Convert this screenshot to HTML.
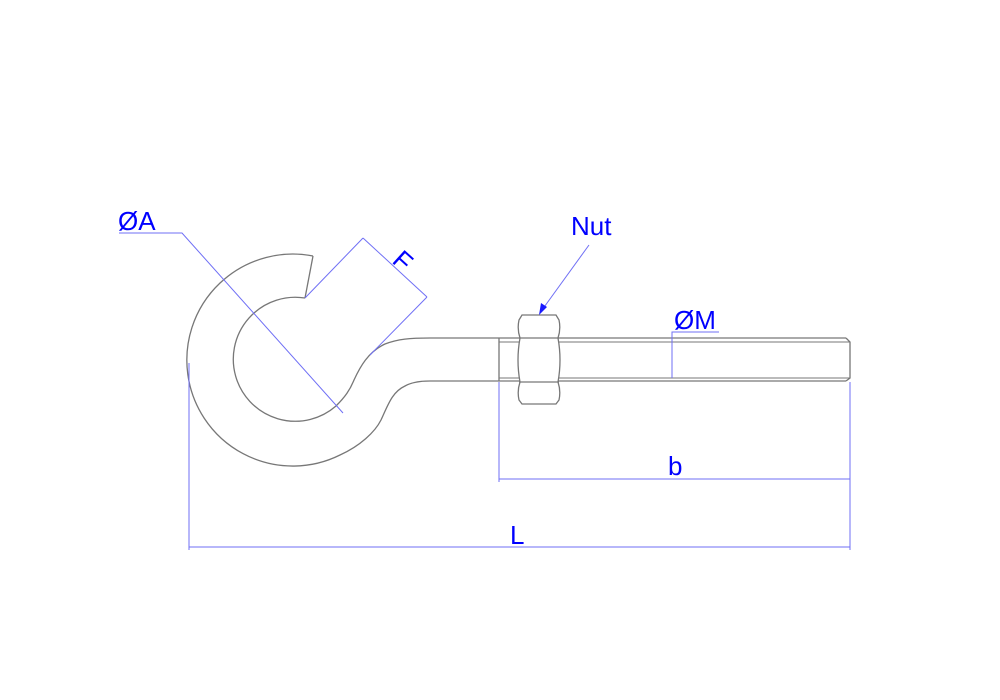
<!DOCTYPE html>
<html><head><style>html,body{margin:0;padding:0;background:#fff;}svg{display:block}</style></head>
<body>
<svg width="1000" height="700" viewBox="0 0 1000 700" xmlns="http://www.w3.org/2000/svg">
<g fill="none" stroke="#777" stroke-width="1.3">
<path d="M313,256 A106,106 0 1 0 340,455 C360,446 375,432 381,420 C388,405 392,392 405,386 C412,382 420,381 430,381 L499,381"/>
<path d="M305,298 A62,62 0 1 0 336,406 C345,397 350,390 354,380 C360,367 368,352 385,344 C398,339 410,338 430,338 L499,338"/>
<line x1="313" y1="256" x2="305" y2="298"/>
<line x1="499" y1="338" x2="499" y2="381"/>
<line x1="499" y1="338" x2="846" y2="338"/>
<line x1="499" y1="381" x2="846" y2="381"/>
<line x1="499" y1="342" x2="850" y2="342" stroke-width="1"/>
<line x1="499" y1="378" x2="850" y2="378" stroke-width="1"/>
<path d="M846,338 L850,342 L850,378 L846,381"/>
<path d="M522,315 L556,315 L559,320 Q561,329 558,338 Q562,360 558,382 Q561,391 559,400 L556,404 L522,404 L519,400 Q517,391 520,382 Q516,360 520,338 Q517,329 519,320 Z" fill="#fff"/>
<line x1="519" y1="338" x2="559" y2="338"/>
<line x1="519" y1="382" x2="559" y2="382"/>
</g>
<g fill="none" stroke="#6f6ff5" stroke-width="1">
<line x1="189" y1="363" x2="189" y2="550"/>
<line x1="499" y1="382" x2="499" y2="482"/>
<line x1="850" y1="382" x2="850" y2="550"/>
<line x1="189" y1="547" x2="850" y2="547"/>
<line x1="499" y1="479" x2="850" y2="479"/>
<polyline points="119,233 182,233 343,413"/>
<line x1="305" y1="298" x2="363" y2="238"/>
<line x1="370" y1="355" x2="427" y2="297"/>
<line x1="363" y1="238" x2="427" y2="297"/>
<line x1="589" y1="245" x2="542" y2="310"/>
<line x1="672" y1="342" x2="672" y2="378"/>
<polyline points="672,342 672,332 719,332"/>
</g>
<polygon points="539,315 541,303 547,307" fill="#1a1aff"/>
<g fill="#0000ff" font-family="Liberation Sans, sans-serif" font-size="26">
<text x="118" y="230">ØA</text>
<text x="571" y="235">Nut</text>
<text x="674" y="329">ØM</text>
<text x="668" y="475">b</text>
<text x="510" y="544">L</text>
<text x="0" y="0" transform="translate(391,262) rotate(42)">F</text>
</g>
</svg>
</body></html>
